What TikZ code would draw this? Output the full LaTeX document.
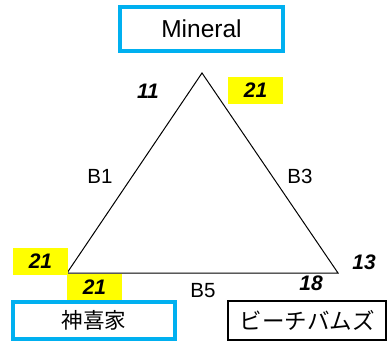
\documentclass[tikz,border=0pt]{standalone}
\usepackage{fontspec}
\setmainfont{Liberation Sans}
\newfontfamily\jpfont{Noto Sans CJK JP}
\definecolor{exblue}{RGB}{0,176,240}
\definecolor{exyellow}{RGB}{255,255,0}
\begin{document}
\begin{tikzpicture}[x=1pt,y=-1pt,
  bluebox/.style={draw=exblue,line width=4pt,inner sep=0pt,fill=white},
  blackbox/.style={draw=black,line width=1.5pt,inner sep=0pt,fill=white},
  numlbl/.style={inner sep=0pt,font=\fontsize{21}{25}\selectfont\bfseries\itshape},
  ylw/.style={numlbl,fill=exyellow,minimum width=55pt,minimum height=27pt},
  edgelbl/.style={inner sep=0pt,font=\fontsize{20.5}{24}\selectfont},
  tri/.style={draw=black,line width=1pt}]
\useasboundingbox (0,0) rectangle (387,342);
% triangle
\coordinate (A) at (202,73);
\coordinate (L) at (67,273);
\coordinate (R) at (338,273);
\draw[tri] (A) -- (L) -- (R) -- cycle;
% top box
\node[bluebox,minimum width=163pt,minimum height=44pt,font=\fontsize{24.5}{28}\selectfont] (mineral) at (201.5,29) {Mineral};
% numbers
\node[numlbl] (n11) at (148,91) {11};
\node[ylw] (n21a) at (255.5,90.5) {21};
\node[edgelbl] (b1) at (100,176) {B1};
\node[edgelbl] (b3) at (300,176) {B3};
\node[ylw] (n21b) at (40.5,261.5) {21};
\node[ylw,minimum height=26pt] (n21c) at (94.5,287) {21};
\node[edgelbl] (b5) at (203,291) {B5};
\node[numlbl] (n13) at (364,262) {13};
\node[numlbl] (n18) at (311,283) {18};
% bottom boxes
\node[bluebox,minimum width=162pt,minimum height=37pt,font=\jpfont\fontsize{21.5}{25}\selectfont] (shinki) at (94,320.5) {神喜家};
\node[blackbox,minimum width=158pt,minimum height=39pt,font=\jpfont\fontsize{22.5}{26}\selectfont] (beach) at (307,320.5) {ビーチバムズ};
\end{tikzpicture}
\end{document}
